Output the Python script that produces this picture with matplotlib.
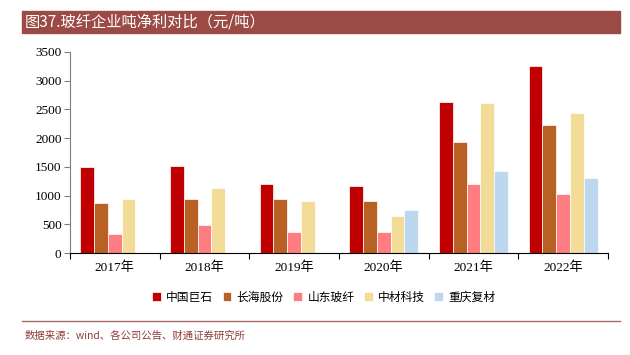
import matplotlib.pyplot as plt
import numpy as np
from matplotlib.patches import Rectangle
from matplotlib.lines import Line2D

plt.rcParams['font.family'] = ['Liberation Serif', 'Noto Sans CJK SC']

years = ['2017年', '2018年', '2019年', '2020年', '2021年', '2022年']
companies = ['中国巨石', '长海股份', '山东玻纤', '中材科技', '重庆复材']
colors = ['#C00000', '#B96125', '#FF7C80', '#F3DC98', '#BDD7EE']

jushi = [1490, 1520, 1210, 1160, 2620, 3250]
changhai = [865, 940, 940, 900, 1930, 2220]
shandong = [340, 490, 365, 375, 1200, 1025]
zhongcai = [940, 1135, 905, 650, 2615, 2430]
chongqing = [0, 0, 0, 745, 1425, 1310]

series = [jushi, changhai, shandong, zhongcai, chongqing]

fig = plt.figure(figsize=(6.3, 3.55), dpi=100)
ax = fig.add_axes([0.111, 0.287, 0.854, 0.567])

x = np.arange(len(years))
w = 0.154
for i, (name, vals, c) in enumerate(zip(companies, series, colors)):
    ax.bar(x + (i - 2) * w, vals, width=w, color=c, edgecolor='white',
           linewidth=0.5, label=name)

ax.set_xlim(-0.5, len(years) - 0.5)
ax.set_ylim(0, 3500)
ax.set_yticks(range(0, 3501, 500))
ax.set_xticks(np.arange(-0.5, len(years), 1))
ax.set_xticklabels([])
ax.set_xticks(x, minor=True)
ax.set_xticklabels(years, minor=True)
ax.tick_params(axis='x', which='minor', length=0, pad=6, labelsize=9.5)
ax.tick_params(axis='x', which='major', length=4, direction='out', color='black')
ax.tick_params(axis='y', length=4, direction='out', color='#7f7f7f', labelsize=9.5, pad=2)

for s in ['top', 'right']:
    ax.spines[s].set_visible(False)
ax.spines['left'].set_color('#7f7f7f')
ax.spines['bottom'].set_color('black')

ax.legend(loc='center', bbox_to_anchor=(0.514, 0.163), bbox_transform=fig.transFigure,
          ncol=5, frameon=False, handlelength=0.75, handleheight=0.75,
          handletextpad=0.45, columnspacing=0.8,
          prop={'family': ['Noto Sans CJK SC'], 'size': 8.5})

# title bar
fig.patches.append(Rectangle((22 / 630, 1 - 33 / 355), 598 / 630, 22 / 355,
                             transform=fig.transFigure, color='#9C4A46', zorder=0))
fig.text(25 / 630, 1 - 22 / 355, '图37.玻纤企业吨净利对比（元/吨）', color='white',
         fontsize=11, va='center', ha='left',
         family=['Noto Sans CJK SC'])

# footer
fig.lines.append(Line2D([22 / 630, 620 / 630], [1 - 321 / 355] * 2,
                        transform=fig.transFigure, color='#A86B68', linewidth=1))
fig.text(25 / 630, 1 - 336 / 355, '数据来源：wind、各公司公告、财通证券研究所',
         color='#8E3E3A', fontsize=7.5, va='center', ha='left',
         family=['Noto Sans CJK SC'])

fig.savefig('out.png', dpi=100)
